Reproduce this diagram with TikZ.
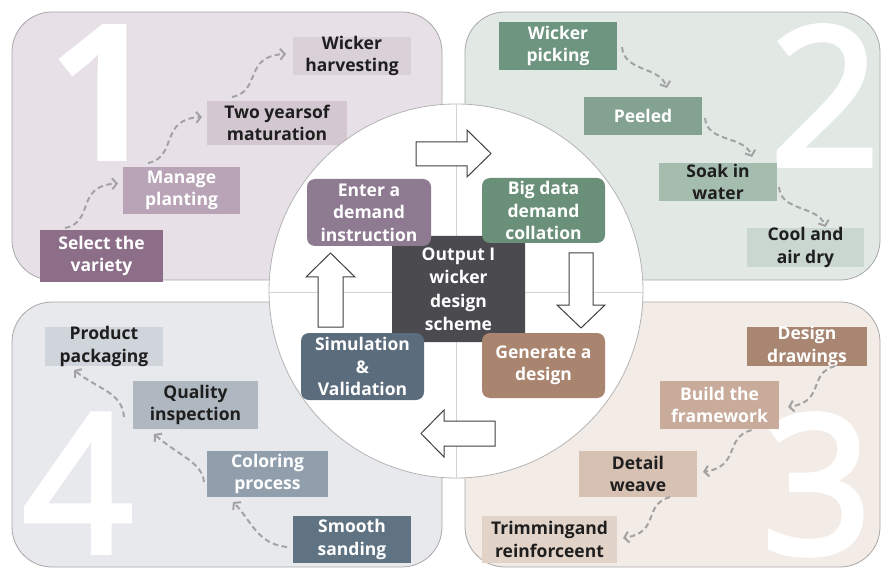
\documentclass[tikz,border=0pt]{standalone}
\usepackage{fontspec}
\setmainfont{Open Sans}
\newfontfamily\numfam{Open Sans}[BoldFont={Open Sans}, BoldFeatures={FakeBold=3}]
\usetikzlibrary{arrows.meta}
\definecolor{bgA}{HTML}{E7E1E7}
\definecolor{bgB}{HTML}{E2E9E5}
\definecolor{bgC}{HTML}{F3EBE6}
\definecolor{bgD}{HTML}{E8E9EC}
\definecolor{panelline}{HTML}{A8A8A8}
\definecolor{flowgray}{HTML}{A3A3A3}
\definecolor{arrowline}{HTML}{404040}
\definecolor{circline}{HTML}{B4B4B4}
\definecolor{divline}{HTML}{D4D4D4}
\definecolor{darktext}{HTML}{1E1E1E}
% quadrant 1
\definecolor{cSel}{HTML}{8C6E89}
\definecolor{cMan}{HTML}{B8A4B6}
\definecolor{cTwo}{HTML}{D3C7D1}
\definecolor{cWh}{HTML}{D9D0D8}
% quadrant 2
\definecolor{cPick}{HTML}{6E9580}
\definecolor{cPeel}{HTML}{83A291}
\definecolor{cSoak}{HTML}{A5BDAF}
\definecolor{cCool}{HTML}{CAD7D0}
% quadrant 3
\definecolor{cDd}{HTML}{A88672}
\definecolor{cBf}{HTML}{C8AB9A}
\definecolor{cDw}{HTML}{D6C1B3}
\definecolor{cTr}{HTML}{E2D3C8}
% quadrant 4
\definecolor{cPp}{HTML}{D0D4DB}
\definecolor{cQi}{HTML}{AFB8C1}
\definecolor{cCp}{HTML}{919FAC}
\definecolor{cSs}{HTML}{5F7383}
% centre
\definecolor{cEnt}{HTML}{8E7B91}
\definecolor{cBig}{HTML}{6A9079}
\definecolor{cOut}{HTML}{4B4A4F}
\definecolor{cSim}{HTML}{5B6C7D}
\definecolor{cGen}{HTML}{A98570}
\begin{document}
\begin{tikzpicture}[x=1pt,y=-1pt,
  panel/.style={draw=panelline, line width=0.8pt, rounded corners=40pt},
  box/.style={rectangle, inner sep=0pt, outer sep=0pt},
  rbox/.style={box, rounded corners=8pt},
  lbl/.style={align=center, inner sep=0pt, font=\fontsize{17.5}{22.5}\selectfont\bfseries},
  wl/.style={lbl, text=white},
  bl/.style={lbl, text=darktext},
  flow/.style={draw=flowgray, line width=2pt, dash pattern=on 5.5pt off 3.5pt,
    -{Straight Barb[length=4.5pt,width=11pt]}},
  blk/.style={draw=arrowline, fill=white, line width=1pt, line join=miter},
  bignum/.style={text=white, font=\fontsize{192}{192}\selectfont\numfam\bfseries, inner sep=0pt, anchor=base}
]
\useasboundingbox (0,0) rectangle (883,569);
\fill[white] (0,0) rectangle (883,569);

% panels
\draw[panel, fill=bgA] (12,12) rectangle (442,280);
\draw[panel, fill=bgB] (465,12) rectangle (880,280);
\draw[panel, fill=bgC] (465,302) rectangle (880,567);
\draw[panel, fill=bgD] (12,302) rectangle (442,567);

% big numerals
\node[bignum, font=\fontsize{192}{192}\selectfont\bfseries] (n1) at (102,162) {1};
\node[bignum] (n2) at (825,165) {2};
\node[bignum] (n3) at (817,553) {3};
\node[bignum] (n4) at (78,552) {4};

% quadrant 1 boxes
\node[box, fill=cSel, minimum width=123pt, minimum height=52pt] (sel) at (101.5,256) {};
\node[wl] (selT) at (sel) {Select the\\variety};
\node[box, fill=cMan, minimum width=117pt, minimum height=47pt] (man) at (181.5,190.5) {};
\node[wl] (manT) at (man) {Manage\\planting};
\node[box, fill=cTwo, minimum width=140pt, minimum height=44pt] (two) at (277,123) {};
\node[bl] (twoT) at (two) {Two yearsof\\maturation};
\node[box, fill=cWh, minimum width=118pt, minimum height=38pt] (wh) at (352,56) {};
\node[bl] (whT) at (wh) {Wicker\\harvesting};

% quadrant 2 boxes
\node[box, fill=cPick, minimum width=118pt, minimum height=48pt] (pick) at (558,46) {};
\node[wl] (pickT) at (pick) {Wicker\\picking};
\node[box, fill=cPeel, minimum width=118pt, minimum height=38pt] (peel) at (643,116) {};
\node[wl] (peelT) at (peel) {Peeled};
\node[box, fill=cSoak, minimum width=118pt, minimum height=38pt] (soak) at (718,182) {};
\node[bl] (soakT) at (soak) {Soak in\\water};
\node[box, fill=cCool, minimum width=117pt, minimum height=39pt] (cool) at (805.5,247.5) {};
\node[bl] (coolT) at (cool) {Cool and\\air dry};

% quadrant 3 boxes
\node[box, fill=cDd, minimum width=120pt, minimum height=39pt] (dd) at (807,346.5) {};
\node[wl] (ddT) at (dd) {Design\\drawings};
\node[box, fill=cBf, minimum width=119pt, minimum height=48pt] (bf) at (719.5,405) {};
\node[wl] (bfT) at (bf) {Build the\\framework};
\node[box, fill=cDw, minimum width=118pt, minimum height=46pt] (dw) at (638,474) {};
\node[bl] (dwT) at (dw) {Detail\\weave};
\node[box, fill=cTr, minimum width=135pt, minimum height=47pt] (tr) at (549.5,539.5) {};
\node[bl] (trT) at (tr) {Trimmingand\\reinforceent};

% quadrant 4 boxes
\node[box, fill=cPp, minimum width=118pt, minimum height=39pt] (pp) at (104,346.5) {};
\node[bl] (ppT) at (pp) {Product\\packaging};
\node[box, fill=cQi, minimum width=125pt, minimum height=48pt] (qi) at (195.5,405) {};
\node[bl] (qiT) at (qi) {Quality\\inspection};
\node[box, fill=cCp, minimum width=121pt, minimum height=46pt] (cp) at (267.5,474) {};
\node[wl] (cpT) at (cp) {Coloring\\process};
\node[box, fill=cSs, minimum width=118pt, minimum height=47pt] (ss) at (352,539.5) {};
\node[wl] (ssT) at (ss) {Smooth\\sanding};

% dashed flows, quadrant 1
\draw[flow] ([shift={(25,-2)}]sel.north west) .. controls +(30,-6) and +(-43,2) .. ([shift={(-5,-7)}]man.west);
\draw[flow] ([shift={(25,-4)}]man.north west) .. controls +(30,-6) and +(-43,2) .. ([shift={(-5,-6)}]two.west);
\draw[flow] ([shift={(25,-4)}]two.north west) .. controls +(30,-6) and +(-43,2) .. ([shift={(-7,-2)}]wh.west);
% quadrant 2
\draw[flow] ([shift={(5,1)}]pick.east) .. controls +(2,25) and +(-8,-22) .. ([shift={(24,-9)}]peel.north);
\draw[flow] ([shift={(3,2)}]peel.east) .. controls +(2,25) and +(-8,-22) .. ([shift={(34,-6)}]soak.north);
\draw[flow] ([shift={(2,5)}]soak.east) .. controls +(2,25) and +(-8,-22) .. ([shift={(20,-1)}]cool.north);
% quadrant 3
\draw[flow] ([shift={(28,0)}]dd.south) .. controls +(-28,8) and +(38,-6) .. ([shift={(9,2)}]bf.east);
\draw[flow] ([shift={(32,1)}]bf.south) .. controls +(-28,8) and +(38,-6) .. ([shift={(6,-2)}]dw.east);
\draw[flow] ([shift={(32,0)}]dw.south) .. controls +(-28,8) and +(38,-6) .. ([shift={(6,-1.5)}]tr.east);
% quadrant 4
\draw[flow] ([shift={(-6,7.5)}]ss.west) .. controls +(-30,-3) and +(18,18) .. ([shift={(-34.5,5)}]cp.south);
\draw[flow] ([shift={(-3,8)}]cp.west) .. controls +(-2,-20) and +(25,22) .. ([shift={(-41.5,5)}]qi.south);
\draw[flow] ([shift={(-9,12)}]qi.west) .. controls +(-2,-25) and +(25,20) .. ([shift={(-30,4)}]pp.south);

% central circle
\draw[draw=circline, fill=white, line width=0.8pt] (456,291) circle[radius=187];
\draw[divline, line width=0.8pt] (456,104) -- (456,478);
\draw[divline, line width=0.8pt] (269,292) -- (643,292);

% block arrows
\draw[blk] (416,142) -- (467,142) -- (467,130) -- (491,153.5) -- (467,177) -- (467,166) -- (416,166) -- cycle;
\draw[blk] (569,253) -- (593,253) -- (593,305) -- (605,305) -- (581,328) -- (557,305) -- (569,305) -- cycle;
\draw[blk] (495,421) -- (444,421) -- (444,410) -- (421,433.5) -- (444,457) -- (444,446) -- (495,446) -- cycle;
\draw[blk] (318,327) -- (318,277) -- (306,277) -- (330.5,253) -- (355,277) -- (343,277) -- (343,327) -- cycle;

% centre boxes
\node[rbox, fill=cOut, minimum width=133pt, minimum height=106pt] (out) at (458.5,289) {};
\node[wl, font=\fontsize{17.5}{23.5}\selectfont\bfseries] (outT) at (out) {Output I\\wicker\\design\\scheme};
\node[rbox, fill=cEnt, minimum width=124pt, minimum height=67pt] (ent) at (369,212.5) {};
\node[wl] (entT) at (ent) {Enter a\\demand\\instruction};
\node[rbox, fill=cBig, minimum width=123pt, minimum height=65pt] (big) at (543.5,210.5) {};
\node[wl] (bigT) at (big) {Big data\\demand\\collation};
\node[rbox, fill=cSim, minimum width=123pt, minimum height=67pt] (sim) at (362.5,366.5) {};
\node[wl] (simT) at (sim) {Simulation\\\&\\Validation};
\node[rbox, fill=cGen, minimum width=123pt, minimum height=65pt] (gen) at (543.5,365.5) {};
\node[wl] (genT) at (gen) {Generate a\\design};
\end{tikzpicture}
\end{document}
